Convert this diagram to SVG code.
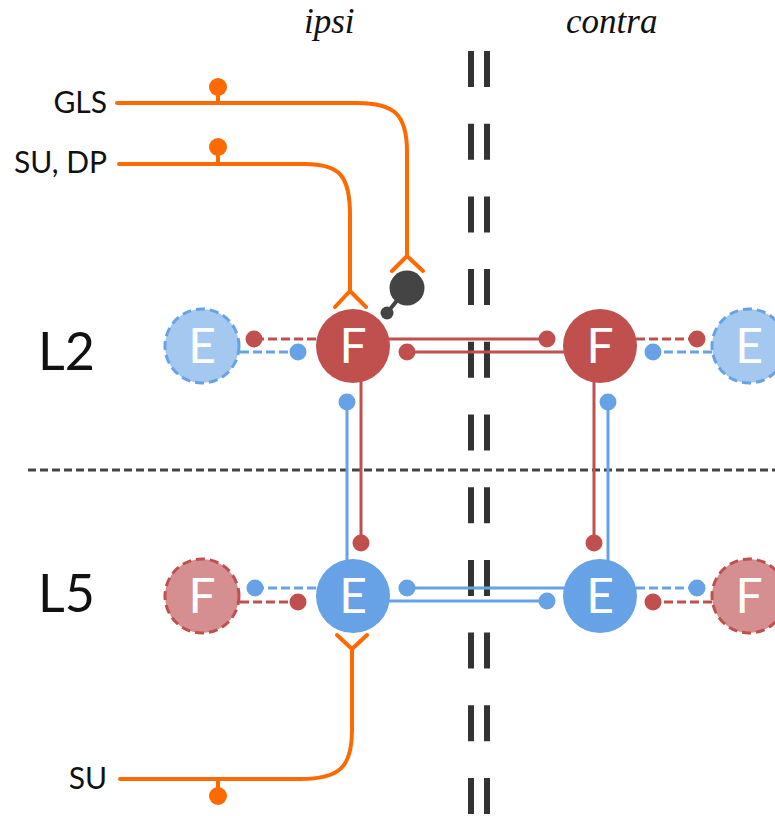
<svg xmlns="http://www.w3.org/2000/svg" width="775" height="816" viewBox="0 0 775 816">
<style>
.lbl{font-family:Lato,"Open Sans","Liberation Sans",sans-serif;fill:#111;}
.side{font-family:"Liberation Serif","DejaVu Serif",serif;font-style:italic;font-size:35px;fill:#111;}
.nt{font-family:Lato,"Open Sans","Liberation Sans",sans-serif;font-size:48px;fill:#fff;text-anchor:middle;}
.red{stroke:#C0504D;stroke-width:3;fill:none;}
.blue{stroke:#66A2E5;stroke-width:3;fill:none;}
.dash{stroke-dasharray:9 4;}
.rdot{fill:#C0504D;}
.bdot{fill:#66A2E5;}
.or{stroke:#FF6A00;stroke-width:4;fill:none;stroke-linecap:round;stroke-linejoin:round;}
.odot{fill:#FF6A00;}
.Fn{fill:#C0504D;}
.En{fill:#66A2E5;}
.Fd{fill:#D68F90;stroke:#C0504D;stroke-width:3;stroke-dasharray:9 5;}
.Ed{fill:#A5C8F0;stroke:#66A2E5;stroke-width:3;stroke-dasharray:9 5;}
</style>

<g id="dividers">
<line x1="471" y1="51" x2="471" y2="816" stroke="#333" stroke-width="6" stroke-dasharray="36 36.7"/>
<line x1="487" y1="51" x2="487" y2="816" stroke="#333" stroke-width="6" stroke-dasharray="36 36.7"/>
<line x1="28" y1="470" x2="775" y2="470" stroke="#444" stroke-width="3" stroke-dasharray="8 4"/>
</g>

<g id="labels">
<text class="side" x="304" y="33">ipsi</text>
<text class="side" x="566" y="33">contra</text>
<text class="lbl" x="107" y="113" font-size="30" text-anchor="end">GLS</text>
<text class="lbl" x="107" y="173" font-size="30" text-anchor="end">SU, DP</text>
<text class="lbl" x="107" y="789" font-size="30" text-anchor="end">SU</text>
<text class="lbl" x="38" y="370" font-size="52">L2</text>
<text class="lbl" x="38" y="612" font-size="52">L5</text>
</g>

<g id="connectors">
<line class="red dash" x1="316" y1="339" x2="254" y2="339"/>
<circle class="rdot" cx="254" cy="339" r="8.5"/>
<line class="blue dash" x1="240" y1="352" x2="298" y2="352"/>
<circle class="bdot" cx="298" cy="352" r="8.5"/>
<line class="red dash" x1="636" y1="339" x2="697" y2="339"/>
<circle class="rdot" cx="697" cy="339" r="8.5"/>
<line class="blue dash" x1="712" y1="352" x2="653" y2="352"/>
<circle class="bdot" cx="653" cy="352" r="8.5"/>
<line class="red" x1="353" y1="339" x2="547" y2="339"/>
<circle class="rdot" cx="547" cy="339" r="8.5"/>
<line class="red" x1="600" y1="352" x2="407" y2="352"/>
<circle class="rdot" cx="407" cy="352" r="8.5"/>
<line class="blue dash" x1="316" y1="588" x2="255" y2="588"/>
<circle class="bdot" cx="255" cy="588" r="8.5"/>
<line class="red dash" x1="240" y1="602" x2="298" y2="602"/>
<circle class="rdot" cx="298" cy="602" r="8.5"/>
<line class="blue dash" x1="636" y1="588" x2="697" y2="588"/>
<circle class="bdot" cx="697" cy="588" r="8.5"/>
<line class="red dash" x1="712" y1="602" x2="653" y2="602"/>
<circle class="rdot" cx="653" cy="602" r="8.5"/>
<line class="blue" x1="600" y1="588" x2="407" y2="588"/>
<circle class="bdot" cx="407" cy="588" r="8.5"/>
<line class="blue" x1="353" y1="601" x2="547" y2="601"/>
<circle class="bdot" cx="547" cy="601" r="8.5"/>
<line class="blue" x1="347" y1="596" x2="347" y2="402"/>
<circle class="bdot" cx="347" cy="402" r="8.5"/>
<line class="red" x1="361" y1="346" x2="361" y2="543"/>
<circle class="rdot" cx="361" cy="543" r="8.5"/>
<line class="red" x1="594" y1="346" x2="594" y2="543"/>
<circle class="rdot" cx="594" cy="543" r="8.5"/>
<line class="blue" x1="608" y1="596" x2="608" y2="402"/>
<circle class="bdot" cx="608" cy="402" r="8.5"/>
<path class="or" d="M117,103 H357 C395,103 407,115 407,152 V256 M392,271 L407,256 L423,271"/>
<line class="or" x1="218" y1="103" x2="218" y2="92"/>
<circle class="odot" cx="218" cy="87" r="9"/>
<path class="or" d="M119,164 H305 C340,164 350,176 350,215 V291 M335,307 L350,291 L366,307"/>
<line class="or" x1="218" y1="164" x2="218" y2="152"/>
<circle class="odot" cx="218" cy="147" r="9"/>
<path class="or" d="M120,779 H300 C340,779 352,767 352,730 V649 M337,635 L352,649 L367,635"/>
<line class="or" x1="218" y1="779" x2="218" y2="791"/>
<circle class="odot" cx="218" cy="796" r="9"/>
<line x1="407" y1="288" x2="387" y2="313" stroke="#444" stroke-width="4"/>
<circle cx="407" cy="288" r="17.5" fill="#444"/>
<circle cx="387" cy="313" r="6.5" fill="#444"/>
</g>

<g id="node-E-L2-ipsi-side"><circle class="Ed" cx="202" cy="346" r="37"/><text class="nt" x="202" y="363">E</text></g>
<g id="node-F-L2-ipsi"><circle class="Fn" cx="353" cy="346" r="37"/><text class="nt" x="353" y="363">F</text></g>
<g id="node-F-L2-contra"><circle class="Fn" cx="600" cy="346" r="37"/><text class="nt" x="600" y="363">F</text></g>
<g id="node-E-L2-contra-side"><circle class="Ed" cx="749" cy="346" r="37"/><text class="nt" x="749" y="363">E</text></g>
<g id="node-F-L5-ipsi-side"><circle class="Fd" cx="202" cy="596" r="37"/><text class="nt" x="202" y="613">F</text></g>
<g id="node-E-L5-ipsi"><circle class="En" cx="353" cy="596" r="37"/><text class="nt" x="353" y="613">E</text></g>
<g id="node-E-L5-contra"><circle class="En" cx="600" cy="596" r="37"/><text class="nt" x="600" y="613">E</text></g>
<g id="node-F-L5-contra-side"><circle class="Fd" cx="749" cy="596" r="37"/><text class="nt" x="749" y="613">F</text></g>
</svg>
